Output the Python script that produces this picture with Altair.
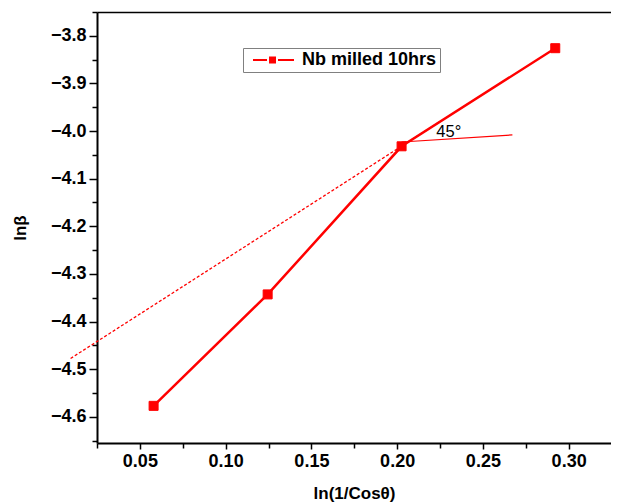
import altair as alt
import pandas as pd

# ---- data ----
series_name = "Nb milled 10hrs"
x_vals = [0.058, 0.1245, 0.2026, 0.2922]
y_vals = [-4.577, -4.343, -4.032, -3.826]

fit_x = [0.0096, 0.225]
fit_y = [-4.4775, -3.980]

angle_x = [0.2026, 0.2672]
angle_y = [-4.023, -4.008]

angle_label = ["45°"]
angle_label_x = [0.2301]
angle_label_y = [-4.002]

x_major = [0.05, 0.10, 0.15, 0.20, 0.25, 0.30]
x_minor = [0.025, 0.075, 0.125, 0.175, 0.225, 0.275]
y_major = [-4.6, -4.5, -4.4, -4.3, -4.2, -4.1, -4.0, -3.9, -3.8]
y_minor = [-4.65, -4.55, -4.45, -4.35, -4.25, -4.15, -4.05, -3.95, -3.85, -3.75]

x_domain = [0.025, 0.3247]
y_domain = [-4.655, -3.75]

RED = "#ff0000"
FONT = "Liberation Sans"

main = pd.DataFrame({"x": x_vals, "y": y_vals, "series": [series_name] * len(x_vals)})
fit = pd.DataFrame({"x": fit_x, "y": fit_y})
ang = pd.DataFrame({"x": angle_x, "y": angle_y})
lab = pd.DataFrame({"x": angle_label_x, "y": angle_label_y, "t": angle_label})

xs = alt.Scale(domain=x_domain, nice=False, zero=False)
ys = alt.Scale(domain=y_domain, nice=False, zero=False)

x_axis_major = alt.Axis(values=x_major, format=".2f", tickSize=6, labelPadding=3,
                        title="ln(1/Cosθ)", titlePadding=15, grid=False)
y_axis_major = alt.Axis(values=y_major, format=".1f", tickSize=8, labelPadding=3,
                        title="lnβ", titlePadding=21, grid=False)
x_axis_minor = alt.Axis(values=x_minor, labels=False, tickSize=5, domain=False,
                        title=None, grid=False, orient="bottom")
y_axis_minor = alt.Axis(values=y_minor, labels=False, tickSize=5, domain=False,
                        title=None, grid=False, orient="left")
x_axis_top = alt.Axis(orient="top", labels=False, ticks=False, domain=True,
                      domainWidth=1.5, title=None, grid=False)

line = alt.Chart(main).mark_line(color=RED, strokeWidth=2.5).encode(
    x=alt.X("x:Q", scale=xs, axis=x_axis_major),
    y=alt.Y("y:Q", scale=ys, axis=y_axis_major),
)

legend_path = ("M-0.25,0L1.5,0M2.875,0L4.875,0"
               "M1.88,-0.31L2.5,-0.31L2.5,0.31L1.88,0.31Z")

points = alt.Chart(main).mark_point(
    shape="square", filled=True, size=81, stroke=RED, strokeWidth=1, opacity=1
).encode(
    x=alt.X("x:Q", scale=xs, axis=x_axis_minor),
    y=alt.Y("y:Q", scale=ys, axis=y_axis_minor),
    color=alt.Color(
        "series:N",
        scale=alt.Scale(domain=[series_name], range=[RED]),
        legend=alt.Legend(
            title=None, orient="none", legendX=146, legendY=36,
            symbolType=legend_path, symbolSize=256, symbolStrokeWidth=2,
            symbolFillColor=RED, symbolStrokeColor=RED,
            labelFont=FONT, labelFontSize=18, labelFontWeight="bold",
            labelColor="black", labelOffset=38, padding=3,
            strokeColor="#808080", fillColor="white",
        ),
    ),
)

dashed = alt.Chart(fit).mark_line(color=RED, strokeWidth=1.3, strokeDash=[3, 2]).encode(
    x=alt.X("x:Q", scale=xs, axis=None),
    y=alt.Y("y:Q", scale=ys, axis=None),
)

angle_line = alt.Chart(ang).mark_line(color=RED, strokeWidth=1.2).encode(
    x=alt.X("x:Q", scale=xs, axis=None),
    y=alt.Y("y:Q", scale=ys, axis=None),
)

angle_text = alt.Chart(lab).mark_text(
    font=FONT, fontSize=16.5, color="black", align="center", baseline="middle"
).encode(
    x=alt.X("x:Q", scale=xs, axis=x_axis_top),
    y=alt.Y("y:Q", scale=ys, axis=None),
    text="t:N",
)

chart = (
    alt.layer(dashed, angle_line, line, points, angle_text)
    .resolve_axis(x="independent", y="independent")
    .properties(
        width=514, height=431,
        padding={"left": 89, "top": 4, "right": 0, "bottom": 64},
        autosize="none",
        background="white",
    )
    .configure_view(strokeWidth=0)
    .configure_axis(
        labelFont=FONT, labelFontSize=18, labelFontWeight="bold", labelColor="black",
        titleFont=FONT, titleFontSize=17, titleFontWeight="bold", titleColor="black",
        domainColor="black", domainWidth=2, tickColor="black", tickWidth=1.5,
    )
)

chart.save("out.html", embed_options={"renderer": "svg", "actions": False})
